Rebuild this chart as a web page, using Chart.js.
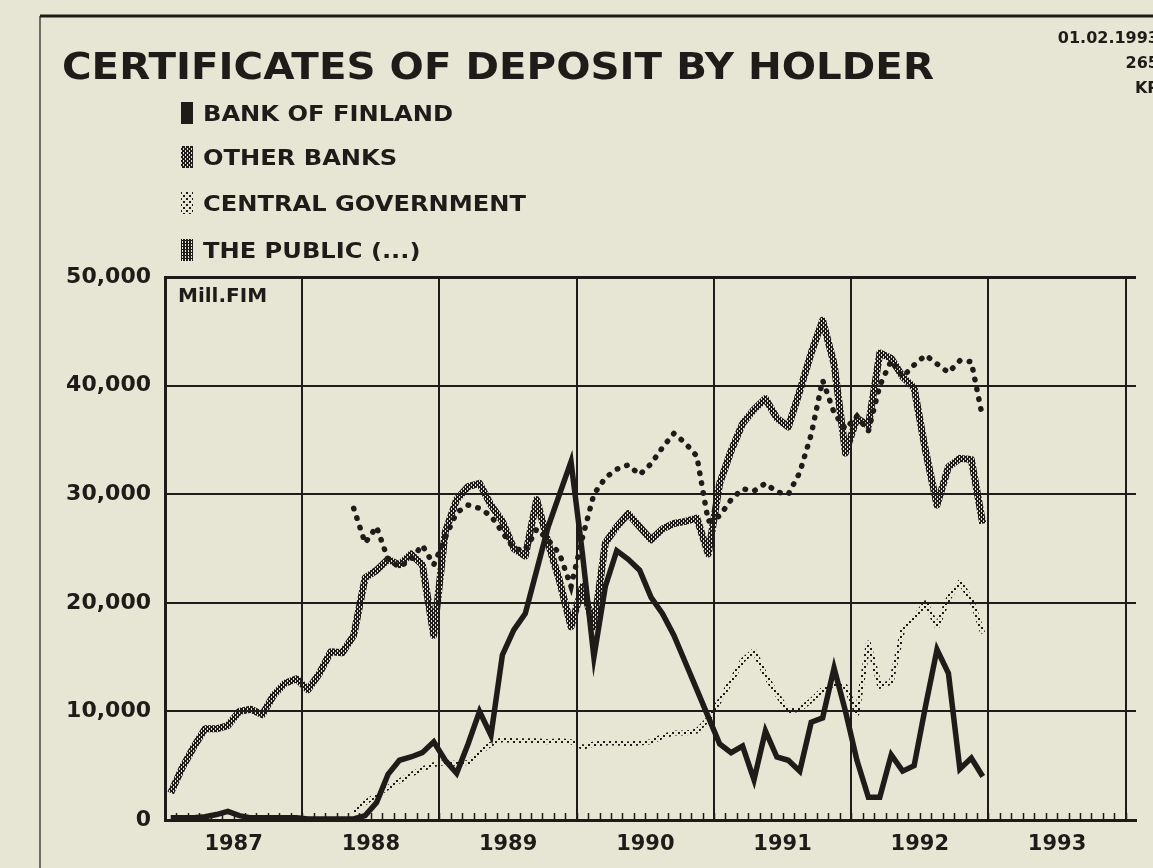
<!DOCTYPE html>
<html>
<head>
<meta charset="utf-8">
<script src="https://cdn.jsdelivr.net/npm/chart.js@4.4.0/dist/chart.umd.min.js"></script>
<style>
  html, body { margin: 0; padding: 0; background: #e7e6d4; }
  #chart { display: block; }
</style>
</head>
<body>
<canvas id="chart" width="1153" height="868"></canvas>
<script>
// monthly values, Mill. FIM, Jan 1987 .. Dec 1992
const years = ['1987', '1988', '1989', '1990', '1991', '1992', '1993'];
const yTicks = [0, 10000, 20000, 30000, 40000, 50000];

const bankOfFinland = [
  200, 200, 200, 300, 500, 800, 400, 200, 200, 200, 200, 200,
  100, 100, 100, 100, 100, 400, 1600, 4200, 5500, 5800, 6200, 7200,
  5500, 4300, 7000, 10000, 7800, 15200, 17500, 19000, 23000, 27000, 30000, 33000,
  24500, 15000, 21500, 24800, 24000, 23000, 20500, 19000, 17000, 14500, 12000, 9500,
  7000, 6200, 6800, 3700, 8200, 5800, 5500, 4500, 9000, 9400, 14000, 10000,
  5500, 2100, 2100, 6000, 4500, 5000, 10500, 15700, 13500, 4700, 5700, 4000
];
const otherBanks = [
  2500, 4800, 6700, 8400, 8400, 8700, 10000, 10200, 9700, 11500, 12600, 13000,
  12000, 13500, 15500, 15400, 17000, 22300, 23000, 24000, 23500, 24500, 23500, 17000,
  26500, 29500, 30700, 31000, 29000, 27500, 25000, 24300, 29500, 25500, 22000, 17800,
  21500, 17800, 25500, 27000, 28200, 27000, 25800, 26800, 27300, 27500, 27800, 24500,
  31000, 34000, 36500, 37800, 38800, 37000, 36200, 39500, 43000, 46000, 42000, 33800,
  37000, 36300, 43000, 42500, 40800, 39800, 34000, 29000, 32500, 33300, 33200, 27300
];
// these two start in May 1988
const publicStart = 16;
const thePublic = [
  28700, 25500, 27000, 24000, 23300, 24000, 25300, 23500,
  26000, 28300, 29000, 28700, 28000, 26500, 25000, 24800, 26800, 25800, 24500, 21500,
  26000, 30000, 31500, 32300, 32700, 31800, 32800, 34300, 35600, 34700, 33500, 27500,
  28000, 29500, 30500, 30300, 31000, 30200, 30000, 32000, 35500, 40500, 37500, 36000,
  37200, 35800, 40000, 42300, 40800, 41900, 42800, 42000, 41200, 42300, 42200, 37000
];
const govStart = 16;
const centralGov = [
  800, 1600, 2300, 3000, 3600, 4200, 4700, 5100,
  5300, 5200, 5300, 6200, 7000, 7400, 7300, 7300, 7300, 7200, 7300, 7200,
  6700, 7000, 7100, 7100, 7000, 7100, 7200, 7700, 8000, 8000, 8200, 9300,
  11000, 12800, 14700, 15600, 13300, 11600, 10000, 10200, 11000, 12000, 12500, 12300,
  9800, 16300, 12300, 12700, 17500, 18600, 20000, 17800, 20400, 21900, 20300, 17200
];

const INK = '#1f1b19';
const PAPER = '#e7e6d4';
const FONT = '"DejaVu Sans", "Liberation Sans", sans-serif';

function pattern(size, cells) {
  const c = document.createElement('canvas');
  c.width = c.height = size;
  const g = c.getContext('2d');
  g.fillStyle = INK;
  cells.forEach(([x, y, w, h]) => g.fillRect(x, y, w, h));
  return g.createPattern(c, 'repeat');
}
const checker = pattern(4, [[0, 0, 3, 2], [2, 2, 2, 2], [0, 2, 1, 2]]);
const sparse = pattern(6, [[0, 0, 2, 2], [3, 3, 2, 2]]);
const dense = pattern(3, [[0, 0, 2, 3], [2, 0, 1, 1]]);

const toPoints = (values, start) => values.map((v, k) => ({ x: start + k + 0.5, y: v }));

const legendRows = [
  { text: 'BANK OF FINLAND', fill: INK, y: 113 },
  { text: 'OTHER BANKS', fill: checker, y: 157 },
  { text: 'CENTRAL GOVERNMENT', fill: sparse, y: 203 },
  { text: 'THE PUBLIC (...)', fill: dense, y: 250 }
];

const paper = {
  id: 'paper',
  beforeDraw(chart) {
    const { ctx, width, height } = chart;
    ctx.save();
    ctx.fillStyle = PAPER;
    ctx.fillRect(0, 0, width, height);
    // sheet frame
    ctx.strokeStyle = INK;
    ctx.lineWidth = 3;
    ctx.beginPath();
    ctx.moveTo(40, 16); ctx.lineTo(width, 16);
    ctx.stroke();
    ctx.lineWidth = 1.2;
    ctx.beginPath();
    ctx.moveTo(40, 16); ctx.lineTo(40, height);
    ctx.stroke();
    ctx.restore();
  },
  beforeDatasetsDraw(chart) {
    // month tick marks standing on the time axis
    const { ctx, chartArea, scales } = chart;
    ctx.save();
    ctx.strokeStyle = INK;
    ctx.lineWidth = 1.5;
    ctx.beginPath();
    for (let m = 0; m <= 84; m++) {
      const x = Math.round(scales.x.getPixelForValue(m)) + 0.5;
      ctx.moveTo(x, chartArea.bottom);
      ctx.lineTo(x, chartArea.bottom - 7);
    }
    ctx.stroke();
    ctx.restore();
  },
  afterDraw(chart) {
    const { ctx, chartArea } = chart;
    ctx.save();
    ctx.fillStyle = INK;
    ctx.textBaseline = 'alphabetic';

    // title, stretched to the printed width
    ctx.font = 'bold 37px ' + FONT;
    const title = 'CERTIFICATES OF DEPOSIT BY HOLDER';
    const tw = ctx.measureText(title).width;
    ctx.save();
    ctx.translate(62, 79);
    ctx.scale(872 / tw, 1);
    ctx.fillText(title, 0, 0);
    ctx.restore();

    // legend
    ctx.font = 'bold 22px ' + FONT;
    const k = 250 / ctx.measureText(legendRows[0].text).width;
    legendRows.forEach(r => {
      ctx.fillStyle = r.fill;
      ctx.fillRect(181, r.y - 11, 12, 22);
      ctx.fillStyle = INK;
      ctx.save();
      ctx.translate(203, r.y + 8);
      ctx.scale(k, 1);
      ctx.fillText(r.text, 0, 0);
      ctx.restore();
    });

    // date stamp, cut by the page edge
    ctx.font = 'bold 16px ' + FONT;
    ctx.textAlign = 'right';
    ctx.fillText('01.02.1993', 1159, 43);
    ctx.fillText('265', 1159, 68);
    ctx.fillText('KP', 1159, 93);

    // unit
    ctx.textAlign = 'left';
    ctx.font = 'bold 20px ' + FONT;
    ctx.fillText('Mill.FIM', chartArea.left + 13, chartArea.top + 25);
    ctx.restore();
  }
};

new Chart(document.getElementById('chart'), {
  type: 'line',
  data: {
    datasets: [
      { label: 'BANK OF FINLAND', data: toPoints(bankOfFinland, 0),
        borderColor: INK, borderWidth: 5.5 },
      { label: 'OTHER BANKS', data: toPoints(otherBanks, 0),
        borderColor: checker, borderWidth: 7, borderJoinStyle: 'round' },
      { label: 'THE PUBLIC (...)', data: toPoints(thePublic, publicStart),
        borderColor: INK, borderWidth: 5.5, borderDash: [0.5, 9.5], borderCapStyle: 'round' },
      { label: 'CENTRAL GOVERNMENT', data: toPoints(centralGov, govStart),
        borderColor: sparse, borderWidth: 5, borderJoinStyle: 'round' }
    ]
  },
  options: {
    responsive: false,
    animation: false,
    devicePixelRatio: 1,
    layout: { padding: { top: 277, right: 17, left: 0, bottom: 0 } },
    elements: {
      line: { tension: 0, fill: false },
      point: { radius: 0, hoverRadius: 0 }
    },
    plugins: {
      legend: { display: false },
      tooltip: { enabled: false }
    },
    scales: {
      x: {
        type: 'linear',
        min: 0,
        max: 84.9,
        bounds: 'data',
        afterFit: s => { s.height = 48; },
        border: { color: INK, width: 3 },
        grid: {
          drawTicks: false,
          lineWidth: 2,
          color: c => (c.tick && c.tick.value % 12 === 0 && c.tick.value > 0) ? INK : 'rgba(0,0,0,0)'
        },
        ticks: {
          stepSize: 1,
          autoSkip: false,
          includeBounds: false,
          maxRotation: 0,
          minRotation: 0,
          padding: 12,
          color: INK,
          font: { family: FONT, size: 21, weight: 'bold' },
          callback: v => (v % 12 === 6 ? years[(v - 6) / 12] : '')
        }
      },
      y: {
        min: yTicks[0],
        max: yTicks[yTicks.length - 1],
        afterFit: s => { s.width = 165; },
        afterBuildTicks: s => { s.ticks = yTicks.map(v => ({ value: v })); },
        border: { color: INK, width: 3 },
        grid: {
          drawTicks: false,
          color: INK,
          lineWidth: c => (c.tick && c.tick.value === 50000 ? 3 : 2)
        },
        ticks: {
          padding: 14,
          color: INK,
          font: { family: FONT, size: 22, weight: 'bold' },
          callback: v => v.toLocaleString('en-US')
        }
      }
    }
  },
  plugins: [paper]
});
</script>
</body>
</html>
